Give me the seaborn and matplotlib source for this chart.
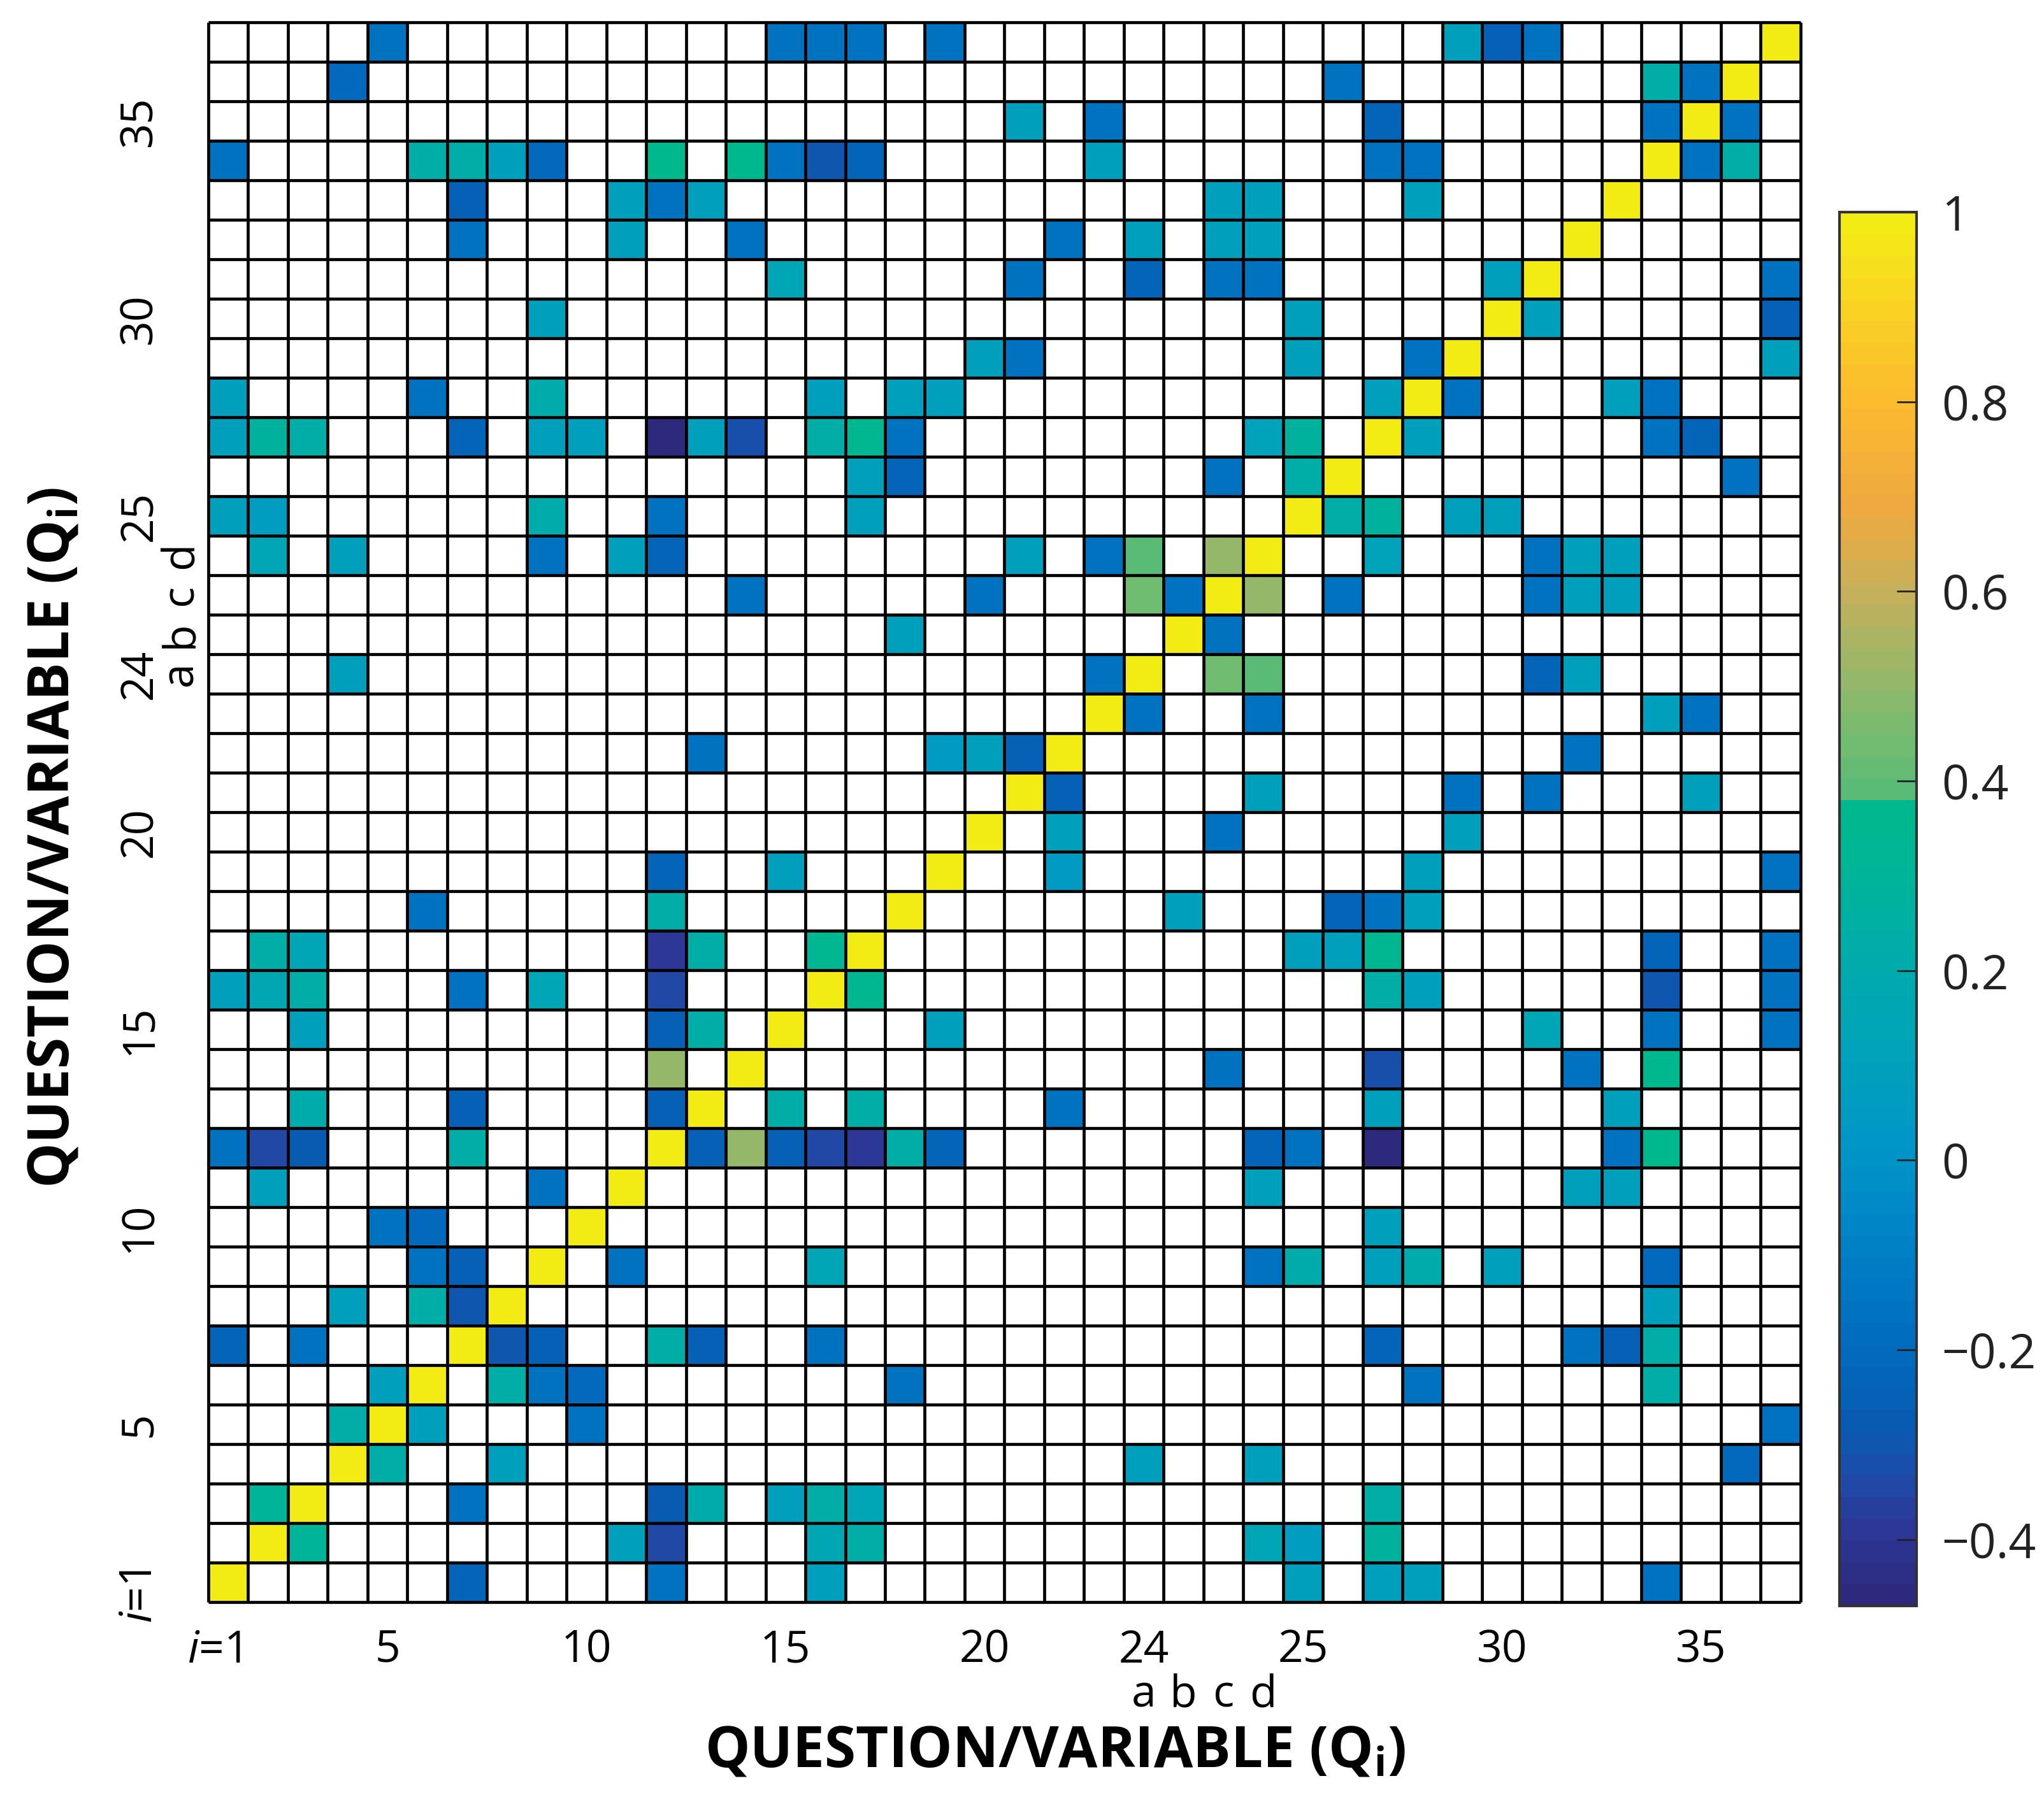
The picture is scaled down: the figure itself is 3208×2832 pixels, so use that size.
import numpy as np
import matplotlib
matplotlib.use("Agg")
import matplotlib.pyplot as plt
from matplotlib.colors import LinearSegmentedColormap, ListedColormap
import seaborn as sns

plt.rcParams['font.family'] = ['Open Sans', 'DejaVu Sans']
plt.rcParams['mathtext.fontset'] = 'custom'
plt.rcParams['mathtext.rm'] = 'Open Sans'
plt.rcParams['mathtext.it'] = 'Open Sans:italic'
plt.rcParams['mathtext.bf'] = 'Open Sans:bold'

# questions / variables (question 24 is split into a-d)
questions = [str(q) for q in range(1, 24)] + ["24a", "24b", "24c", "24d"] + [str(q) for q in range(25, 38)]

# shown correlations, lower triangle only (1-based row / column position in questions)
pair_row = [40, 40, 40, 40, 40, 40, 40, 40,
            39, 39, 39, 39,
            38, 38, 38, 38,
            37, 37, 37, 37, 37, 37, 37, 37, 37, 37, 37, 37, 37,
            36, 36, 36, 36, 36, 36, 36,
            35, 35, 35, 35, 35, 35, 35,
            34, 34, 34, 34, 34, 34,
            33, 33,
            32, 32, 32, 32,
            31, 31, 31, 31, 31, 31, 31,
            30, 30, 30, 30, 30, 30, 30, 30, 30, 30, 30, 30, 30, 30,
            29, 29, 29, 29,
            28, 28, 28, 28, 28,
            27, 27, 27, 27, 27, 27, 27, 27, 27,
            26, 26, 26, 26,
            25,
            24, 24,
            22, 22, 22, 22,
            19, 19,
            18, 18,
            17, 17, 17, 17, 17,
            16, 16, 16, 16, 16, 16,
            15, 15, 15,
            14,
            13, 13, 13,
            12, 12, 12, 12,
            11, 11,
            10, 10,
            9, 9,
            8, 8, 8,
            7, 7,
            6,
            5,
            3]
pair_col = [5, 15, 16, 17, 19, 32, 33, 34,
            4, 29, 37, 38,
            21, 23, 30, 37,
            1, 6, 7, 8, 9, 12, 14, 15, 16, 17, 23, 30, 31,
            7, 11, 12, 13, 26, 27, 31,
            7, 11, 14, 22, 24, 26, 27,
            15, 21, 24, 26, 27, 33,
            9, 28,
            20, 21, 28, 31,
            1, 6, 9, 16, 18, 19, 30,
            1, 2, 3, 7, 9, 10, 12, 13, 14, 16, 17, 18, 27, 28,
            17, 18, 26, 28,
            1, 2, 9, 12, 17,
            2, 4, 9, 11, 12, 21, 23, 24, 26,
            14, 20, 24, 25,
            18,
            4, 23,
            13, 19, 20, 21,
            12, 15,
            6, 12,
            2, 3, 12, 13, 16,
            1, 2, 3, 7, 9, 12,
            3, 12, 13,
            12,
            3, 7, 12,
            1, 2, 3, 7,
            2, 9,
            5, 6,
            6, 7,
            4, 6, 7,
            1, 3,
            5,
            4,
            2]
pair_r = [-0.17, -0.17, -0.17, -0.17, -0.17, 0.09, -0.26, -0.17,
          -0.20, -0.17, 0.22, -0.17,
          0.09, -0.17, -0.24, -0.17,
          -0.17, 0.22, 0.22, 0.09, -0.20, 0.36, 0.36, -0.17, -0.30, -0.24, 0.09, -0.17, -0.17,
          -0.26, 0.09, -0.17, 0.09, 0.09, 0.09, 0.09,
          -0.17, 0.09, -0.17, -0.17, 0.09, 0.09, 0.09,
          0.14, -0.17, -0.24, -0.17, -0.17, 0.09,
          0.09, 0.09,
          0.09, -0.17, 0.09, -0.17,
          0.09, -0.17, 0.20, 0.09, 0.09, 0.09, 0.09,
          0.09, 0.27, 0.22, -0.24, 0.09, 0.09, -0.45, 0.09, -0.32, 0.22, 0.34, -0.17, 0.12, 0.27,
          0.09, -0.22, -0.17, 0.22,
          0.09, 0.06, 0.20, -0.17, 0.09,
          0.14, 0.09, -0.17, 0.09, -0.24, 0.09, -0.17, 0.40, 0.50,
          -0.17, -0.17, 0.43, -0.17,
          0.09,
          0.09, -0.17,
          -0.17, 0.05, 0.09, -0.26,
          -0.22, 0.09,
          -0.17, 0.22,
          0.22, 0.14, -0.40, 0.22, 0.35,
          0.09, 0.16, 0.22, -0.17, 0.14, -0.35,
          0.09, -0.26, 0.22,
          0.50,
          0.20, -0.26, -0.26,
          -0.17, -0.35, -0.28, 0.22,
          0.09, -0.17,
          -0.17, -0.20,
          -0.17, -0.26,
          0.09, 0.22, -0.30,
          -0.24, -0.17,
          0.09,
          0.22,
          0.30]

cbar_ticks = [-0.4, -0.2, 0, 0.2, 0.4, 0.6, 0.8, 1.0]
cbar_labels = ["\u22120.4", "\u22120.2", "0", "0.2", "0.4", "0.6", "0.8", "1"]
vmin, vmax = -0.47, 1.0

# symmetric matrix, empty cells stay NaN
n = len(questions)
mat = np.full((n, n), np.nan)
np.fill_diagonal(mat, 1.0)
for i, j, r in zip(pair_row, pair_col, pair_r):
    mat[i - 1, j - 1] = r
    mat[j - 1, i - 1] = r

# colour scale: blue/green part, then a jump to the yellow-orange part
stops = [-0.47, -0.40, -0.35, -0.30, -0.20, -0.10, 0.0, 0.10, 0.20, 0.30, 0.385,
         0.39, 0.45, 0.50, 0.55, 0.60, 0.65, 0.70, 0.80, 0.90, 1.0]
stop_colors = ["#2d2a7e", "#2c3796", "#1f4aa6", "#0a58b0", "#006cbe", "#0080c6", "#0094c8",
               "#00a2bc", "#00abac", "#00b49a", "#00b98a",
               "#58bb78", "#74bc70", "#90b86a", "#a8b464", "#c4b05c", "#dcac4c",
               "#eeaa40", "#fbb830", "#fad025", "#f2ec14"]
pos = [(s - vmin) / (vmax - vmin) for s in stops]
base = LinearSegmentedColormap.from_list("corr", list(zip(pos, stop_colors)))
cmap = ListedColormap(base(np.linspace(0, 1, 64)))

fig = plt.figure(figsize=(32.08, 28.32), dpi=100)
ax = fig.add_axes([0.1019, 0.1119, 0.779, 0.8757])
cax = fig.add_axes([0.900, 0.1098, 0.0377, 0.7726])

sns.heatmap(mat, ax=ax, cbar_ax=cax, cmap=cmap, vmin=vmin, vmax=vmax,
            xticklabels=False, yticklabels=False)
ax.invert_yaxis()
ax.set_facecolor("white")

# cell borders for every cell, including the empty ones
ax.hlines(np.arange(n + 1), 0, n, colors="black", lw=3.4, zorder=3, clip_on=False)
ax.vlines(np.arange(n + 1), 0, n, colors="black", lw=3.4, zorder=3, clip_on=False)
for s in ax.spines.values():
    s.set_visible(False)

# tick labels
major_idx = [4, 9, 14, 19, 23, 27, 32, 37]
major_lab = [questions[k].rstrip("abcd") for k in major_idx]
minor_idx = [23, 24, 25, 26]
minor_lab = [questions[k][-1] for k in minor_idx]

ax.xaxis.remove_overlapping_locs = False
ax.yaxis.remove_overlapping_locs = False
ax.set_xticks(np.array(major_idx) + 0.5)
ax.set_xticklabels(major_lab, rotation=0)
ax.set_xticks(np.array(minor_idx) + 0.5, minor=True)
ax.set_xticklabels(minor_lab, minor=True)
ax.set_yticks(np.array(major_idx) + 0.5)
ax.set_yticklabels(major_lab, rotation=90, va="center")
ax.set_yticks(np.array(minor_idx) + 0.5, minor=True)
ax.set_yticklabels(minor_lab, minor=True, rotation=90, va="center")

ax.tick_params(which="both", length=0, labelsize=50)
ax.tick_params(axis="x", which="major", pad=30)
ax.tick_params(axis="x", which="minor", pad=80)
ax.tick_params(axis="y", which="major", pad=52)
ax.tick_params(axis="y", which="minor", pad=6)

ax.annotate("$i$=1", xy=(0.5, 0), xycoords=("data", "axes fraction"),
            xytext=(14, -30), textcoords="offset points",
            ha="right", va="top", fontsize=50)
ax.annotate("$i$=1", xy=(0, 0.5), xycoords=("axes fraction", "data"),
            xytext=(-52, 14), textcoords="offset points",
            ha="right", va="top", rotation=90, fontsize=50)

ax.set_xlabel("QUESTION/VARIABLE (Q$_\\mathbf{i}$)", fontsize=64, fontweight="bold")
ax.set_ylabel("QUESTION/VARIABLE (Q$_\\mathbf{i}$)", fontsize=64, fontweight="bold")
ax.xaxis.set_label_coords(0.532, -0.0766)
ax.yaxis.set_label_coords(-0.079, 0.484)

# colorbar
cbar = ax.collections[0].colorbar
cbar.set_ticks(cbar_ticks)
cbar.set_ticklabels(cbar_labels)
cbar.ax.tick_params(direction="in", length=22, width=2, labelsize=54, pad=28, colors="#222222")
cbar.outline.set_edgecolor("#333333")
cbar.outline.set_linewidth(3)

fig.savefig("out.png", dpi=100, facecolor="white")
